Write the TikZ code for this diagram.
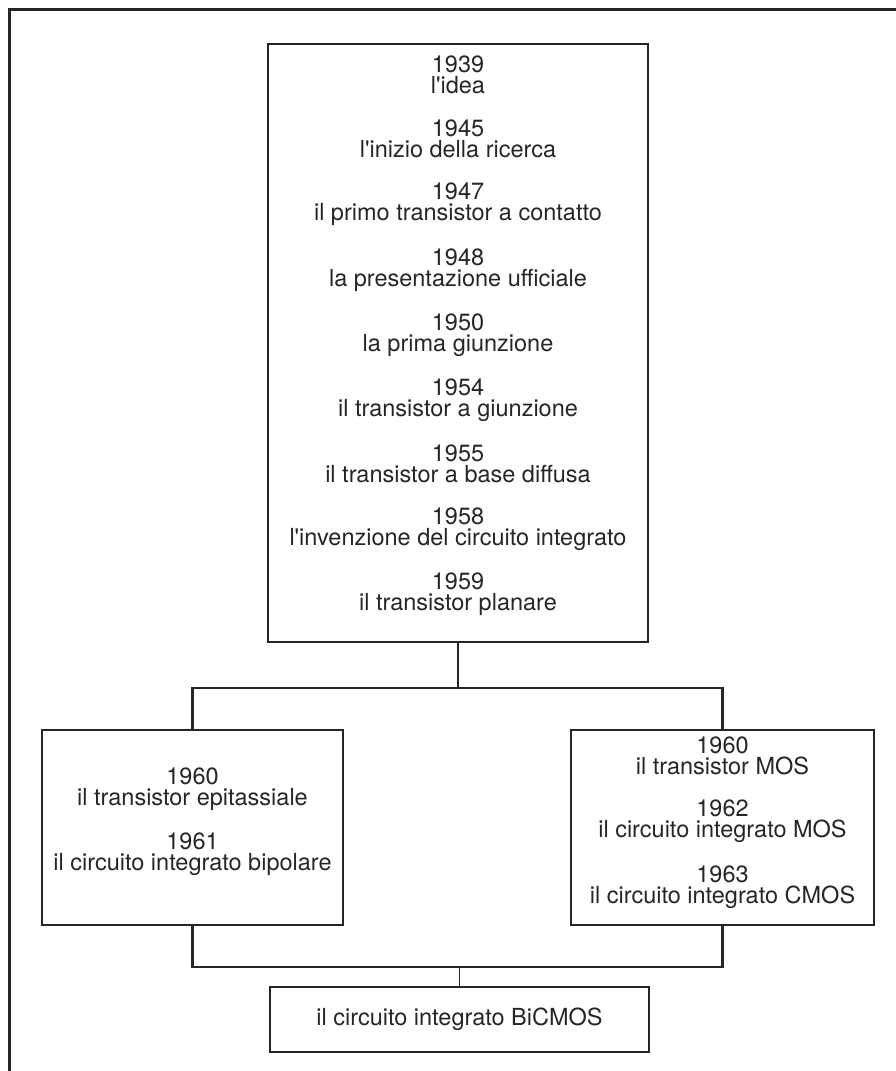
\documentclass[tikz,border=0pt]{standalone}
\usepackage{fontspec}
\setmainfont{TeX Gyre Heros}
\definecolor{ink}{HTML}{262626}
\newcommand{\q}{\textquotesingle}
\begin{document}
\begin{tikzpicture}[x=1pt,y=-1pt,
  frame/.style={draw=ink, line width=3pt},
  wire/.style={draw=ink, line width=2.6pt},
  box/.style={draw=ink, line width=2.6pt, fill=white, inner sep=0pt,
    align=center, text=ink, font=\fontsize{23.5}{21}\selectfont},
  ]
\useasboundingbox (0,0) rectangle (896,1071);
\fill[white] (0,0) rectangle (896,1071);
\draw[frame] (900,9) -- (9,9) -- (9,1075);

\node[box, minimum width=380pt, minimum height=598pt] (top) at (458,343)
 {1939\\l\q idea\\[21.5pt]
  1945\\l\q inizio della ricerca\\[21.5pt]
  1947\\il primo transistor a contatto\\[21.5pt]
  1948\\la presentazione ufficiale\\[21.5pt]
  1950\\la prima giunzione\\[21.5pt]
  1954\\il transistor a giunzione\\[21.5pt]
  1955\\il transistor a base diffusa\\[21.5pt]
  1958\\l\q invenzione del circuito integrato\\[21.5pt]
  1959\\il transistor planare\rule[-19pt]{0pt}{0pt}};

\node[box, minimum width=301pt, minimum height=195pt] (left) at (192.5,827.5)
 {1960\\il transistor epitassiale\\[21.5pt]
  1961\\il circuito integrato bipolare\rule[-16pt]{0pt}{0pt}};

\node[box, minimum width=303pt, minimum height=195pt] (right) at (722.5,827.5)
 {1960\\il transistor MOS\\[21.5pt]
  1962\\il circuito integrato MOS\\[21.5pt]
  1963\\il circuito integrato CMOS\rule[-15pt]{0pt}{0pt}};

\node[box, minimum width=379pt, minimum height=65pt] (bic) at (459.5,1019.5)
 {il circuito integrato BiCMOS};

\coordinate (j1) at (458,688);
\coordinate (j2) at (459.5,967);
\draw[wire] (top.south) -- (j1);
\draw[wire] (left.north) |- (j1) -| (right.north);
\draw[wire] (left.south) |- (j2) -| (right.south);
\draw[wire, line width=1.8pt] (j2) -- (bic.north);
\end{tikzpicture}
\end{document}
